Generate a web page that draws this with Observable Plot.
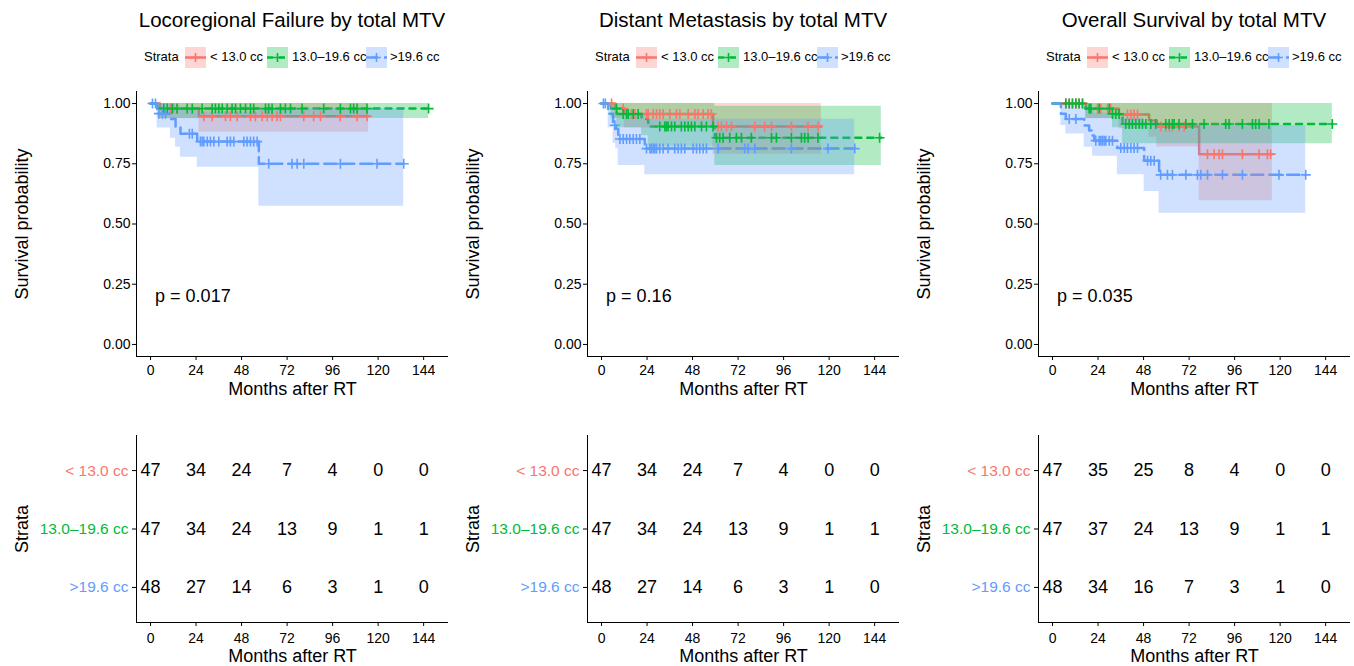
<!DOCTYPE html>
<html><head><meta charset="utf-8">
<script src="https://cdn.jsdelivr.net/npm/d3@7"></script>
<script src="https://cdn.jsdelivr.net/npm/@observablehq/plot@0.6"></script>
<style>
body{margin:0;background:#fff;font-family:"Liberation Sans",Arial,Helvetica,sans-serif;color:#000;}
#root{position:relative;width:1354px;height:666px;overflow:hidden;background:#fff;}
.col{position:absolute;top:0;width:451px;height:666px;}
.title{position:absolute;left:136px;width:312px;top:6.5px;text-align:center;font-size:20.5px;line-height:26px;white-space:nowrap;}
.leg{position:absolute;top:47px;height:20px;line-height:20px;font-size:13px;white-space:nowrap;}
.abs{position:absolute;}
</style></head><body><div id="root"></div>
<script>
// ---------- categories / labels ----------
const strataNames = ["< 13.0 cc", "13.0–19.6 cc", ">19.6 cc"];
const timeTicks = [0, 24, 48, 72, 96, 120, 144];
const survTicks = [0, 0.25, 0.5, 0.75, 1];
const panelTitles = ["Locoregional Failure by total MTV", "Distant Metastasis by total MTV", "Overall Survival by total MTV"];
const pValueLabels = ["p = 0.017", "p = 0.16", "p = 0.035"];

// ---------- Kaplan–Meier steps: [month, survival, lower CI, upper CI] ----------
// Locoregional failure
const lrfLowSteps = [[0,1,1,1],[5,0.978,0.937,1],[25.5,0.947,0.881,1],[115,0.947,0.881,1]];
const lrfMidSteps = [[0,1,1,1],[4,0.979,0.938,1],[146.6,0.979,0.938,1]];
const lrfHighSteps = [[0,1,1,1],[3.5,0.958,0.898,1],[10.5,0.936,0.856,1],[13.2,0.905,0.819,0.99],[15.8,0.875,0.777,0.98],[24.6,0.842,0.736,0.965],[57.1,0.75,0.574,0.978],[133.5,0.75,0.574,0.978]];
const lrfLowCensor = [10.5,12,14,28.1,32.5,39.5,42.1,45.7,52.7,55.3,58.8,61.5,64.1,66.7,68.5,80.8,86,89.6,100,108.9,114.2];
const lrfMidCensor = [7,8.8,11.4,14,19.3,22,27.2,32.5,34.2,36,37.8,40.4,43,44.8,47.4,50.1,52.7,54.4,60.6,62.3,64.1,68.5,71.1,73.8,79.9,91.3,100.1,105.4,107.1,108.9,114.1,146.6];
const lrfHighCensor = [1,2.6,4.4,6.2,7.9,20.5,22,26.3,27.2,28.1,29.9,31.6,33.4,36,40.4,42.1,43.9,49.2,50.9,52.7,54.4,56.2,62.3,74.6,77.3,80.8,100.1,119.4,133.5];
// Distant metastasis
const dmLowSteps = [[0,1,1,1],[7,0.979,0.938,1],[12,0.957,0.898,1],[58.8,0.905,0.79,1],[115.9,0.905,0.79,1]];
const dmMidSteps = [[0,1,1,1],[5,0.979,0.938,1],[8,0.957,0.9,1],[21.1,0.936,0.866,1],[24.6,0.905,0.82,1],[59.7,0.858,0.743,0.989],[147.5,0.858,0.743,0.989]];
const dmHighSteps = [[0,1,1,1],[3.5,0.958,0.9,1],[6.1,0.91,0.835,0.99],[7.5,0.895,0.812,0.985],[8.8,0.853,0.743,0.955],[22.8,0.813,0.704,0.935],[133.5,0.813,0.704,0.935]];
const dmLowCensor = [5.3,11.4,15.8,17.6,23.7,24.6,27.2,29,30.7,32.5,36,39.5,41.3,45.7,49.2,50.9,53.6,56.2,57.9,61.5,63.2,65.9,68.5,80.8,86,89.6,100.1,108.9,114.2];
const dmMidCensor = [7.9,11.4,13.2,14.1,16.7,19.3,30.7,33.4,34.2,35.1,36.9,38.6,42.1,43.9,45.7,47.4,49.2,52.7,55.3,58.8,60.6,62.3,64.1,67.6,71.1,73.8,79,89.6,92.2,100.1,105.4,107.1,108.9,114.1,146.6];
const dmHighCensor = [1,2,7,9.7,11.4,13.2,14.9,16.7,18.4,20.2,23.7,25.5,26.3,27.2,28.1,29,30.7,32.5,35.1,38.6,40.4,42.1,43.9,48.3,50.1,51.8,53.6,55.3,61.5,75.5,77.3,80.8,100.1,119.4,133.5];
// Overall survival
const osLowSteps = [[0,1,1,1],[17.6,0.978,0.937,1],[35,0.955,0.895,1],[50.9,0.93,0.86,1],[55,0.905,0.82,1],[77.3,0.79,0.597,1],[115.9,0.79,0.597,1]];
const osMidSteps = [[0,1,1,1],[17.4,0.979,0.938,1],[31.6,0.957,0.9,1],[36.9,0.915,0.833,1],[147.5,0.915,0.833,1]];
const osHighSteps = [[0,1,1,1],[4.4,0.958,0.909,1],[7,0.936,0.874,1],[16.7,0.909,0.819,0.99],[19.3,0.888,0.819,0.98],[21.1,0.867,0.781,0.97],[22,0.846,0.781,0.96],[34.2,0.815,0.704,0.94],[48.3,0.763,0.635,0.92],[56.2,0.704,0.545,0.909],[133.5,0.704,0.545,0.909]];
const osLowCensor = [7,8.8,10.5,12.3,14,15.8,20.2,23.7,25.5,29,30.7,39.5,41.3,43,44.8,57,59.7,61.5,63.2,66.7,69.4,81.7,85.2,87.8,89.6,100.1,108.9,113.3,115];
const osMidCensor = [7,8.8,10.5,12.3,14,15.8,19.3,20.2,24.6,29.9,31.6,33.4,35.1,38.6,40.4,42.1,43.9,45.7,47.4,49.2,51.8,54.4,59.7,61.5,63.2,64.1,66.7,70.3,73.8,79.9,91.3,93.1,100.1,105.4,107.1,108.9,114.1,147.5];
const osHighCensor = [8.8,12.3,22.8,24.6,25.5,26.3,27.2,28.1,29.9,31.6,36,37.8,39.5,41.3,43,44.8,50.1,51.8,53.6,57,60.6,63.2,70.3,76.4,78.2,81.7,89.6,100.1,119.4,133.5];

// ---------- numbers at risk (at timeTicks) ----------
const lrfRiskLow = [47,34,24,7,4,0,0];
const lrfRiskMid = [47,34,24,13,9,1,1];
const lrfRiskHigh = [48,27,14,6,3,1,0];
const dmRiskLow = [47,34,24,7,4,0,0];
const dmRiskMid = [47,34,24,13,9,1,1];
const dmRiskHigh = [48,27,14,6,3,1,0];
const osRiskLow = [47,35,25,8,4,0,0];
const osRiskMid = [47,37,24,13,9,1,1];
const osRiskHigh = [48,34,16,7,3,1,0];

// ---------- styles ----------
const strataColors = ["#F8766D", "#00BA38", "#619CFF"];
const strataDash = [null, "6,6", "12,6"];
const FONT = '"Liberation Sans", Arial, Helvetica, sans-serif';
const xDomain = [-7.4, 157.1];

const panels = [
  {steps:[lrfLowSteps,lrfMidSteps,lrfHighSteps], censor:[lrfLowCensor,lrfMidCensor,lrfHighCensor], risk:[lrfRiskLow,lrfRiskMid,lrfRiskHigh]},
  {steps:[dmLowSteps,dmMidSteps,dmHighSteps], censor:[dmLowCensor,dmMidCensor,dmHighCensor], risk:[dmRiskLow,dmRiskMid,dmRiskHigh]},
  {steps:[osLowSteps,osMidSteps,osHighSteps], censor:[osLowCensor,osMidCensor,osHighCensor], risk:[osRiskLow,osRiskMid,osRiskHigh]}
];

const plusSymbol = {
  draw(context, size) {
    const r = Math.sqrt(size / Math.PI);
    context.moveTo(-r, 0); context.lineTo(r, 0);
    context.moveTo(0, -r); context.lineTo(0, r);
  }
};
function survAt(steps, t) {
  let s = steps[0][1];
  for (const r of steps) if (r[0] <= t) s = r[1];
  return s;
}
const baseStyle = {fontFamily: FONT, fontSize: "14px", color: "#000", background: "transparent", overflow: "visible"};

function kmPlot(p, i) {
  const marks = [];
  p.steps.forEach((st, k) => marks.push(Plot.line(st, {
    x: d => d[0], y: d => d[1], curve: "step-after", stroke: strataColors[k],
    strokeWidth: 2.5, strokeDasharray: strataDash[k] || undefined
  })));
  p.steps.forEach((st, k) => marks.push(Plot.areaY(st, {
    x: d => d[0], y1: d => d[2], y2: d => d[3], curve: "step-after",
    fill: strataColors[k], fillOpacity: 0.3
  })));
  p.censor.forEach((cs, k) => marks.push(Plot.dot(cs, {
    x: d => d, y: d => survAt(p.steps[k], d), symbol: plusSymbol, r: 5,
    stroke: strataColors[k], fill: "none", strokeWidth: 1.6
  })));
  marks.push(
    Plot.text([pValueLabels[i]], {x: () => 2.4, y: () => 0.2, text: d => d, textAnchor: "start", fontSize: 18}),
    Plot.ruleX([xDomain[0]], {stroke: "#000", strokeWidth: 1}),
    Plot.ruleY([-0.05], {stroke: "#000", strokeWidth: 1}),
    Plot.axisX({ticks: timeTicks, tickSize: 4, tickPadding: 5, fontSize: 14, label: null}),
    Plot.axisY({ticks: survTicks, tickFormat: d3.format(".2f"), tickSize: 4, tickPadding: 2, fontSize: 14, label: null}),
    Plot.text(["Months after RT"], {frameAnchor: "bottom", dy: 38, text: d => d, fontSize: 18, textAnchor: "middle"}),
    Plot.text(["Survival probability"], {frameAnchor: "left", dx: -114, rotate: -90, text: d => d, fontSize: 18, textAnchor: "middle"})
  );
  return Plot.plot({
    width: 451, height: 320, marginLeft: 136, marginRight: 3, marginTop: 11, marginBottom: 44,
    x: {domain: xDomain}, y: {domain: [-0.05, 1.05]},
    style: baseStyle, marks
  });
}

function riskPlot(p) {
  const rows = [];
  p.risk.forEach((arr, k) => arr.forEach((n, j) => rows.push({t: timeTicks[j], y: 3 - k, n: String(n)})));
  return Plot.plot({
    width: 451, height: 246, marginLeft: 136, marginRight: 3, marginTop: 15, marginBottom: 44,
    x: {domain: xDomain}, y: {domain: [0.4, 3.6]},
    style: baseStyle,
    marks: [
      Plot.text(rows, {x: "t", y: "y", text: "n", fontSize: 18, fill: "#000"}),
      Plot.ruleX([xDomain[0]], {stroke: "#000", strokeWidth: 1}),
      Plot.ruleY([0.4], {stroke: "#000", strokeWidth: 1}),
      Plot.axisX({ticks: timeTicks, tickSize: 4, tickPadding: 7, fontSize: 14, label: null}),
      Plot.axisY({ticks: [3, 2, 1], tickFormat: v => strataNames[3 - v], fill: v => strataColors[3 - v],
        tickSize: 4, tickPadding: 4, fontSize: 15.5, label: null}),
      Plot.text(["Months after RT"], {frameAnchor: "bottom", dy: 39, text: d => d, fontSize: 18, textAnchor: "middle"}),
      Plot.text(["Strata"], {frameAnchor: "left", dx: -114, rotate: -90, text: d => d, fontSize: 18, textAnchor: "middle"})
    ]
  });
}

function esc(s) { return s.replace(/&/g, "&amp;").replace(/</g, "&lt;").replace(/>/g, "&gt;"); }
function legendHTML() {
  const boxLeft = [185, 267, 366], labelLeft = [210, 292, 390];
  let h = `<div class="leg" style="left:144px">Strata</div>`;
  strataNames.forEach((name, k) => {
    const c = strataColors[k];
    const dash = strataDash[k] ? `stroke-dasharray="${strataDash[k]}"` : "";
    h += `<svg class="abs" style="left:${boxLeft[k]}px;top:47px" width="21" height="21">` +
      `<rect width="21" height="21" fill="${c}" fill-opacity="0.3"/>` +
      `<line x1="0" x2="21" y1="10.5" y2="10.5" stroke="${c}" stroke-width="2.5" ${dash}/>` +
      `<path d="M6,10.5H15M10.5,6V15" stroke="${c}" stroke-width="1.6" fill="none"/></svg>`;
    h += `<div class="leg" style="left:${labelLeft[k]}px">${esc(name)}</div>`;
  });
  return h;
}

const root = document.getElementById("root");
panels.forEach((p, i) => {
  const col = document.createElement("div");
  col.className = "col";
  col.style.left = (i * 451) + "px";
  root.appendChild(col);
  col.insertAdjacentHTML("beforeend", `<div class="title">${esc(panelTitles[i])}</div>` + legendHTML());
  const km = kmPlot(p, i);
  km.style.position = "absolute"; km.style.left = "0px"; km.style.top = "80px";
  col.appendChild(km);
  const tb = riskPlot(p);
  tb.style.position = "absolute"; tb.style.left = "0px"; tb.style.top = "420px";
  col.appendChild(tb);
});
</script></body></html>
